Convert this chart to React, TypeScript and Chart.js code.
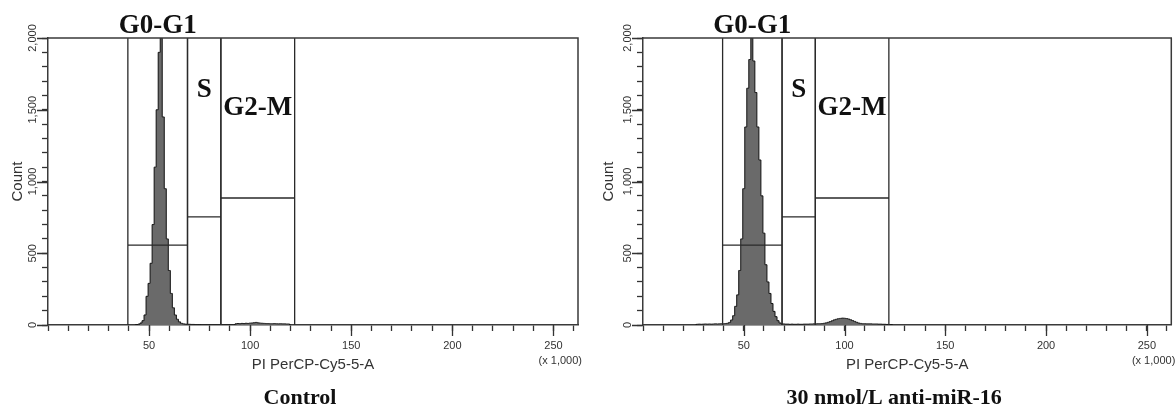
import React, { useEffect, useRef } from 'react';
import { Chart, registerables } from 'chart.js';

Chart.register(...registerables);

// ---------- data ----------
const X_MAX = 262.144; // PI PerCP-Cy5-5-A (x 1,000)
const Y_MAX = 2000;

const xMajorTicks = [50, 100, 150, 200, 250];
const xTickLabels = ['50', '100', '150', '200', '250'];
const yMajorTicks = [0, 500, 1000, 1500, 2000];
const yTickLabels = ['0', '500', '1,000', '1,500', '2,000'];

const gateNames = ['G0-G1', 'S', 'G2-M'];
const gateStarts = [39.5, 69, 85.5];
const gateEnds = [69, 85.5, 122];
const gateLevels = [557, 753, 885];

// Control histogram, 1 bin per 1,000 units, first bin at 43
const controlBinStart = 43;
const controlCounts = [
  0, 3, 6, 14, 30, 70, 200, 290, 430, 700, 1100, 1500, 1900, 2000, 1450, 950, 600, 380, 220, 120,
  70, 40, 22, 12, 8, 6, 5, 5, 4, 4, 3, 3, 2, 0,
  0, 0, 0, 0, 0, 0, 0, 0, 0, 0, 0, 0, 0, 0, 0, 0,
  8, 10, 9, 11, 10, 12, 11, 13, 14, 16, 18, 15, 13, 12, 11, 10, 10, 9, 9, 10, 9, 8, 9, 8, 8, 7, 7,
  0,
];

// 30 nmol/L anti-miR-16 histogram, first bin at 26
const treatedBinStart = 26;
const treatedCounts = [
  0, 5, 6, 5, 6, 7, 6, 7, 6, 7, 8, 7, 8, 9, 9, 10,
  12, 18, 35, 65, 130, 210, 380, 600, 950, 1380, 1650, 1850, 2000, 1840, 1620, 1380, 1150, 900, 640, 420,
  300, 220, 150, 95, 58, 30, 14, 8,
  7, 6, 6, 5, 6, 5, 5, 6, 5, 5, 6, 6, 6, 7, 7, 8, 8, 9, 9, 10,
  12, 15, 19, 24, 30, 36, 40, 44, 46, 48, 47, 45, 42, 37, 31, 25, 19, 14, 11,
  9, 9, 8, 8, 8, 7, 7, 7, 6, 6, 5, 5, 4, 0, 3, 0,
];

const captions = ['Control', '30 nmol/L anti-miR-16'];

// ---------- style ----------
const SANS = '"Liberation Sans", Arial, Helvetica, sans-serif';
const SERIF = '"Liberation Serif", "Times New Roman", Times, serif';
const AXIS_COLOR = '#3a3a3a';
const TICK_COLOR = '#333333';
const gateLabelBaselines = [33, 97, 115];

function near(v: number, list: number[]) {
  return list.findIndex((m) => Math.abs(m - v) < 1e-6);
}

type PanelProps = {
  binStart: number;
  counts: number[];
  caption: string;
  left: number;
  width: number;
  padRight: number;
  titlePad: number;
};

function Panel({ binStart, counts, caption, left, width, padRight, titlePad }: PanelProps) {
  const ref = useRef<HTMLCanvasElement>(null);

  useEffect(() => {
    if (!ref.current) return;
    const hist = counts.map((c, i) => ({ x: binStart + i, y: c }));
    const gateSets = gateNames.map((name, g) => ({
      label: name,
      data: [
        { x: gateStarts[g], y: 0 },
        { x: gateStarts[g], y: Y_MAX },
        { x: gateStarts[g], y: gateLevels[g] },
        { x: gateEnds[g], y: gateLevels[g] },
        { x: gateEnds[g], y: Y_MAX },
        { x: gateEnds[g], y: 0 },
      ],
      borderColor: '#2a2a2a',
      borderWidth: 1.3,
      pointRadius: 0,
      fill: false,
      tension: 0,
      order: 0,
    }));

    const overlay = {
      id: 'overlay',
      afterDraw(chart: any) {
        const { ctx, chartArea } = chart;
        const xs = chart.scales.x;
        const ys = chart.scales.y;
        ctx.save();
        // top & right frame
        ctx.strokeStyle = AXIS_COLOR;
        ctx.lineWidth = 1.5;
        ctx.beginPath();
        ctx.moveTo(chartArea.left, chartArea.top);
        ctx.lineTo(chartArea.right, chartArea.top);
        ctx.lineTo(chartArea.right, chartArea.bottom);
        ctx.stroke();
        // long major ticks
        ctx.strokeStyle = TICK_COLOR;
        ctx.lineWidth = 1.3;
        ctx.beginPath();
        xMajorTicks.forEach((v) => {
          const px = Math.round(xs.getPixelForValue(v)) + 0.5;
          ctx.moveTo(px, chartArea.bottom);
          ctx.lineTo(px, chartArea.bottom + 11);
        });
        yMajorTicks.forEach((v) => {
          const py = Math.round(ys.getPixelForValue(v)) + 0.5;
          ctx.moveTo(chartArea.left, py);
          ctx.lineTo(chartArea.left - 11, py);
        });
        ctx.stroke();
        // gate labels
        ctx.fillStyle = '#111';
        ctx.font = `bold 27px ${SERIF}`;
        ctx.textAlign = 'center';
        ctx.textBaseline = 'alphabetic';
        gateNames.forEach((name, g) => {
          const cx = xs.getPixelForValue((gateStarts[g] + gateEnds[g]) / 2);
          ctx.fillText(name, cx, gateLabelBaselines[g]);
        });
        // scale multiplier
        ctx.fillStyle = '#333';
        ctx.font = `11px ${SANS}`;
        ctx.textAlign = 'right';
        ctx.textBaseline = 'middle';
        ctx.fillText('(x 1,000)', chartArea.right + 4, 361);
        // caption
        ctx.fillStyle = '#111';
        ctx.font = `bold 22px ${SERIF}`;
        ctx.textAlign = 'center';
        ctx.textBaseline = 'middle';
        ctx.fillText(caption, (chartArea.left + chartArea.right) / 2 - 13, 398);
        ctx.restore();
      },
    };

    const chart = new Chart(ref.current, {
      type: 'line',
      data: {
        datasets: [
          ...gateSets,
          {
            label: caption,
            data: hist,
            stepped: 'middle',
            borderColor: '#111',
            borderWidth: 1,
            backgroundColor: '#6a6a6a',
            fill: 'origin',
            pointRadius: 0,
            order: 1,
          },
        ] as any,
      },
      options: {
        animation: false,
        responsive: false,
        maintainAspectRatio: false,
        events: [],
        layout: { padding: { left: 0, right: padRight, top: 38, bottom: 0 } },
        plugins: { legend: { display: false }, tooltip: { enabled: false }, title: { display: false } },
        scales: {
          x: {
            type: 'linear',
            min: 0,
            max: X_MAX,
            afterFit: (s: any) => {
              s.height = 84;
            },
            ticks: {
              stepSize: 10,
              includeBounds: false,
              autoSkip: false,
              minRotation: 0,
              maxRotation: 0,
              padding: 8,
              color: '#333',
              font: { family: SANS, size: 11 },
              callback: (v: any) => {
                const k = near(Number(v), xMajorTicks);
                return k >= 0 ? xTickLabels[k] : '';
              },
            },
            grid: { drawOnChartArea: false, drawTicks: true, tickLength: 6, color: TICK_COLOR, tickWidth: 1.3 },
            border: { display: true, color: AXIS_COLOR, width: 1.5 },
            title: {
              display: true,
              text: 'PI PerCP-Cy5-5-A',
              color: '#333',
              font: { family: SANS, size: 15 },
              padding: { top: 0, bottom: 35 },
            },
          },
          y: {
            type: 'linear',
            min: 0,
            max: Y_MAX,
            afterFit: (s: any) => {
              s.width = 48;
            },
            ticks: {
              stepSize: 100,
              autoSkip: false,
              minRotation: 90,
              maxRotation: 90,
              crossAlign: 'center',
              padding: -5,
              color: '#333',
              font: { family: SANS, size: 11 },
              callback: (v: any) => {
                const k = near(Number(v), yMajorTicks);
                return k >= 0 ? yTickLabels[k] : '';
              },
            },
            grid: { drawOnChartArea: false, drawTicks: true, tickLength: 6, color: TICK_COLOR, tickWidth: 1.3 },
            border: { display: true, color: AXIS_COLOR, width: 1.5 },
            title: {
              display: true,
              text: 'Count',
              color: '#333',
              font: { family: SANS, size: 15 },
              padding: { top: titlePad, bottom: 0 },
            },
          },
        },
      } as any,
      plugins: [overlay],
    });
    return () => chart.destroy();
  }, [binStart, counts, caption, padRight, titlePad]);

  return (
    <canvas
      ref={ref}
      width={width}
      height={409}
      style={{ position: 'absolute', left, top: 0, width, height: 409 }}
    />
  );
}

export default function App() {
  return (
    <div style={{ position: 'fixed', left: 0, top: 0, width: 1175, height: 409, background: '#fff', overflow: 'hidden' }}>
      <Panel binStart={controlBinStart} counts={controlCounts} caption={captions[0]} left={0} width={590} padRight={12} titlePad={9} />
      <Panel binStart={treatedBinStart} counts={treatedCounts} caption={captions[1]} left={595} width={580} padRight={3} titlePad={5} />
    </div>
  );
}
